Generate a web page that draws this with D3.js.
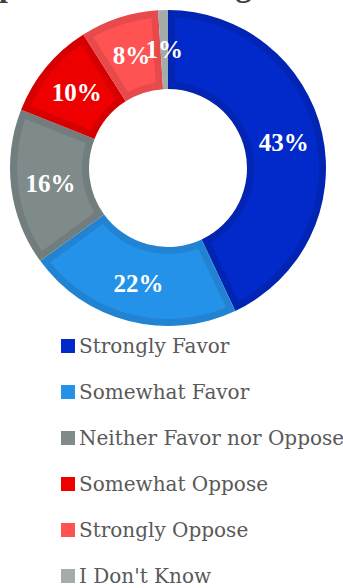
<!DOCTYPE html>
<html>
<head>
<meta charset="utf-8">
<script src="https://cdn.jsdelivr.net/npm/d3@7"></script>
<style>
  html, body { margin: 0; padding: 0; background: #ffffff; }
  svg { display: block; }
</style>
</head>
<body>
<svg id="chart" width="343" height="588"></svg>
<script>
// Survey responses, clockwise from 12 o'clock
const categories = ["Strongly Favor", "Somewhat Favor", "Neither Favor nor Oppose", "Somewhat Oppose", "Strongly Oppose", "I Don't Know"];
const shares = [43, 22, 16, 10, 8, 1];
const fillColors = ["#0229c9", "#2592ea", "#7f8b8b", "#ee0000", "#ff5252", "#a4acaa"];
const edgeColors = ["#0125b2", "#2283d2", "#727d7d", "#d70000", "#e64a4a", "#a4acaa"];
const titleText = "Public Opinion on Funding";

const svg = d3.select("#chart");
const cx = 168, cy = 168;
const rOuter = 158, rInner = 79, band = 7;

const data = categories.map((c, i) => ({ name: c, value: shares[i], fill: fillColors[i], edge: edgeColors[i] }));

const pie = d3.pie().value(d => d.value).sort(null).startAngle(0).endAngle(2 * Math.PI);
const arcs = pie(data);

const outerArc = d3.arc().innerRadius(rInner).outerRadius(rOuter);
const innerArc = d3.arc()
  .innerRadius(rInner + band).outerRadius(rOuter - band)
  .padRadius(rOuter).padAngle(2 * band / rOuter);
const labelArc = d3.arc().innerRadius((rInner + rOuter) / 2).outerRadius((rInner + rOuter) / 2);

// Title, mostly above the visible area
const title = svg.append("text")
  .attr("y", -4)
  .attr("font-family", "'Liberation Serif', serif")
  .attr("font-weight", "bold")
  .attr("font-size", 32)
  .attr("fill", "#404040")
  .text(titleText);
const pIndex = titleText.indexOf("p");
const pStart = title.node().getStartPositionOfChar(pIndex).x;
title.attr("x", -1 - pStart);

const g = svg.append("g").attr("transform", `translate(${cx},${cy})`);

// Slice border band
g.selectAll("path.edge")
  .data(arcs)
  .join("path")
  .attr("class", "edge")
  .attr("d", outerArc)
  .attr("fill", d => d.data.edge);

// Slice body
g.selectAll("path.body")
  .data(arcs)
  .join("path")
  .attr("class", "body")
  .attr("d", innerArc)
  .attr("fill", d => d.data.fill);

// Percentage labels
g.selectAll("text.pct")
  .data(arcs)
  .join("text")
  .attr("class", "pct")
  .attr("transform", d => `translate(${labelArc.centroid(d)})`)
  .attr("text-anchor", "middle")
  .attr("dy", "0.35em")
  .attr("font-family", "'Liberation Serif', serif")
  .attr("font-weight", "bold")
  .attr("font-size", 25)
  .attr("fill", "#ffffff")
  .text(d => d.data.value + "%");

// Legend
const legendY = d3.scalePoint().domain(categories).range([346, 576]);
const legend = svg.append("g");
const rows = legend.selectAll("g.row")
  .data(data)
  .join("g")
  .attr("class", "row")
  .attr("transform", d => `translate(0,${legendY(d.name)})`);

rows.append("rect")
  .attr("x", 61).attr("y", -7)
  .attr("width", 14).attr("height", 14)
  .attr("fill", d => d.fill);

rows.append("text")
  .attr("x", 79)
  .attr("y", 7)
  .attr("font-family", "'DejaVu Serif', serif")
  .attr("font-size", 20)
  .attr("fill", "#595959")
  .text(d => d.name);
</script>
</body>
</html>
